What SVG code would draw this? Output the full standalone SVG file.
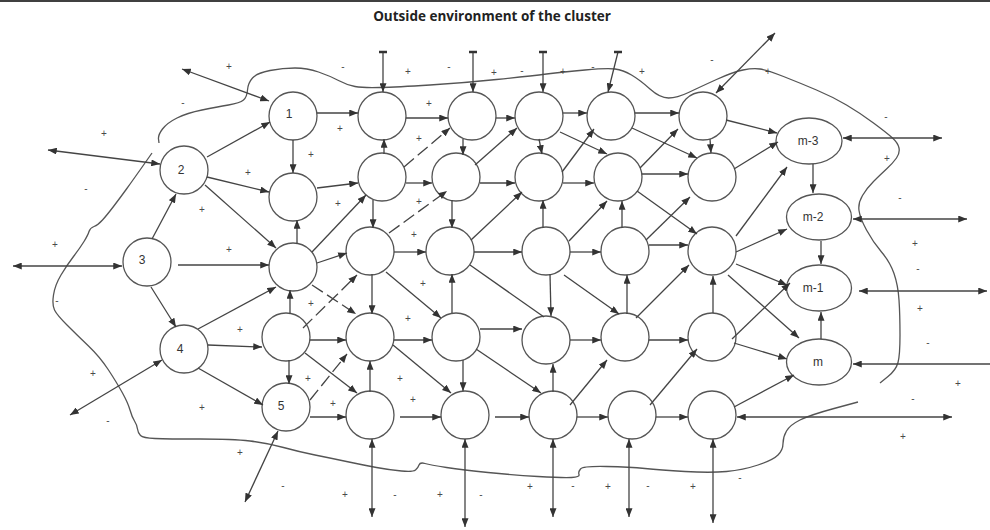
<svg xmlns="http://www.w3.org/2000/svg" width="990" height="530" viewBox="0 0 990 530">
<style>
.e{stroke:#444;stroke-width:1.3;fill:none;marker-end:url(#ah)}
.d{stroke:#444;stroke-width:1.3;fill:none;marker-end:url(#ah);marker-start:url(#ah)}
.p{stroke:#444;stroke-width:1.3;fill:none}
.ds{stroke-dasharray:13 5}
.tb{stroke:#333;stroke-width:2.5}
.nd circle,.nd ellipse{fill:#fff;stroke:#555;stroke-width:1.3}
.lbl{font-family:'Liberation Sans',Arial,sans-serif;font-size:12px;fill:#333;text-anchor:middle}
.pm{font-family:'Liberation Sans',Arial,sans-serif;font-size:10px;fill:#4a4a4a;text-anchor:middle}
.bd{stroke:#555;stroke-width:1.3;fill:none}
</style>
<defs>
<marker id="ah" viewBox="0 0 10 8" refX="10" refY="4" markerWidth="9" markerHeight="7" orient="auto-start-reverse" markerUnits="userSpaceOnUse"><path d="M0,0 L10,4 L0,8 z" fill="#333"/></marker>
</defs>
<rect width="990" height="530" fill="#fff"/>
<line x1="0" y1="1" x2="990" y2="1" stroke="#000" stroke-width="1.5"/>
<text x="492" y="21" font-family="'Open Sans','Liberation Sans',Arial,sans-serif" font-weight="bold" font-size="13.5" fill="#222" text-anchor="middle">Outside environment of the cluster</text>

<g id="boundary">
<path class="bd" d="M159,143 L158.5,139 Q158,135 162.5,129 Q167,123 177,118 Q187,113 202,110 Q217,107 228.5,105 Q240,103 243.5,100 Q247,97 247.5,90 Q248,83 252.5,78 Q257,73 270,70.5 Q283,68 295,68 Q307,68 318.5,72 Q330,76 338.5,80.5 Q347,85 355,86.5 Q363,88 380,87.5 Q397,87 430,85 Q463,83 496.5,79.5 Q530,76 546.5,74 Q563,72 585,70 Q607,68 615,69 Q623,70 631.5,75 Q640,80 650,89 Q660,98 668.5,98 Q677,98 688.5,92.5 Q700,87 716.5,79.5 Q733,72 743,70 Q753,68 760,69 Q767,70 783.5,76.5 Q800,83 816.5,90 Q833,97 846.5,105 Q860,113 873.5,123 Q887,133 892.5,138 Q898,143 899,148 Q900,153 896.5,158 Q893,163 886.5,169 Q880,175 873.5,181.5 Q867,188 862.5,195.5 Q858,203 859,210.5 Q860,218 866.5,230 Q873,242 881.5,252 Q890,262 894,273.5 Q898,285 899,300 Q900,315 900,335 Q900,355 898,362.5 Q896,370 888,376.5 L880,383"/>
<path class="bd" d="M858,402 L834,408.5 Q810,415 800,420 Q790,425 786.5,431 Q783,437 783,443.5 Q783,450 778,455 Q773,460 758,465 Q743,470 726.5,471.5 Q710,473 685,471.5 Q660,470 645,468.5 Q630,467 606.5,466.5 Q583,466 580.5,469 Q578,472 579,474.5 Q580,477 571.5,477.5 Q563,478 538,476.5 Q513,475 488,472.5 Q463,470 446.5,467.5 Q430,465 425,463.5 Q420,462 419,465 Q418,468 415.5,470 Q413,472 401.5,471 Q390,470 376.5,467.5 Q363,465 346.5,461.5 Q330,458 315,455 Q300,452 283.5,447.5 Q267,443 250,441 Q233,439 200,439 Q167,439 155,438.5 Q143,438 140.5,435.5 Q138,433 137.5,429 Q137,425 134.5,421 Q132,417 130,410 Q128,403 122.5,393 Q117,383 108.5,370 Q100,357 88.5,346 Q77,335 67,325 Q57,315 54.5,310 Q52,305 53.5,295 Q55,285 61,275 Q67,265 73.5,256.5 Q80,248 84,241.5 Q88,235 89,231.5 Q90,228 94,226.5 Q98,225 102.5,220 Q107,215 113.5,206.5 Q120,198 126.5,189 Q133,180 142.5,166.5 L152,153"/>
</g>

<g id="signs">
<text class="pm" x="229" y="69.5">+</text><text class="pm" x="104" y="136.5">+</text><text class="pm" x="311" y="157.5">+</text><text class="pm" x="248" y="175.5">+</text>
<text class="pm" x="408" y="74.5">+</text><text class="pm" x="494" y="75.5">+</text><text class="pm" x="563" y="74.5">+</text><text class="pm" x="642" y="74.5">+</text>
<text class="pm" x="429" y="106.5">+</text><text class="pm" x="340" y="131.5">+</text><text class="pm" x="419" y="141.5">+</text><text class="pm" x="768" y="74.5">+</text>
<text class="pm" x="887" y="161.5">+</text><text class="pm" x="202" y="212.5">+</text><text class="pm" x="55" y="247.5">+</text><text class="pm" x="229" y="252.5">+</text>
<text class="pm" x="240" y="332.5">+</text><text class="pm" x="311" y="306.5">+</text><text class="pm" x="338" y="206.5">+</text><text class="pm" x="419" y="204.5">+</text>
<text class="pm" x="414" y="237.5">+</text><text class="pm" x="423" y="286.5">+</text><text class="pm" x="408" y="321.5">+</text><text class="pm" x="308" y="381.5">+</text>
<text class="pm" x="400" y="381.5">+</text><text class="pm" x="333" y="406.5">+</text><text class="pm" x="413" y="402.5">+</text><text class="pm" x="915" y="246.5">+</text>
<text class="pm" x="920" y="311.5">+</text><text class="pm" x="93" y="376.5">+</text><text class="pm" x="202" y="410.5">+</text><text class="pm" x="240" y="455.5">+</text>
<text class="pm" x="345" y="497.5">+</text><text class="pm" x="440" y="497.5">+</text><text class="pm" x="530" y="489.5">+</text><text class="pm" x="608" y="489.5">+</text>
<text class="pm" x="958" y="386.5">+</text><text class="pm" x="903" y="439.5">+</text><text class="pm" x="693" y="489.5">+</text>
<text class="pm" x="183" y="106">-</text><text class="pm" x="343" y="70">-</text><text class="pm" x="449" y="70">-</text><text class="pm" x="522" y="74">-</text>
<text class="pm" x="593" y="70">-</text><text class="pm" x="712" y="63">-</text><text class="pm" x="886" y="120">-</text><text class="pm" x="86" y="192">-</text>
<text class="pm" x="57" y="304">-</text><text class="pm" x="900" y="201">-</text><text class="pm" x="918" y="272">-</text><text class="pm" x="928" y="346">-</text>
<text class="pm" x="108" y="424">-</text><text class="pm" x="283" y="489">-</text><text class="pm" x="395" y="498">-</text><text class="pm" x="481" y="498">-</text>
<text class="pm" x="573" y="489">-</text><text class="pm" x="648" y="489">-</text><text class="pm" x="913" y="402">-</text><text class="pm" x="740" y="481">-</text>
</g>

<g id="n2" class="nd"><circle cx="184" cy="170" r="24"/><text class="lbl" x="181" y="174">2</text></g>
<g id="n3" class="nd"><circle cx="147" cy="262" r="24"/><text class="lbl" x="142" y="264">3</text></g>
<g id="n4" class="nd"><circle cx="184" cy="349" r="24"/><text class="lbl" x="180" y="353">4</text></g>
<g id="n1" class="nd"><circle cx="293" cy="116" r="24"/><text class="lbl" x="289" y="118">1</text></g>
<g id="c1r2" class="nd"><circle cx="293" cy="197" r="24"/></g>
<g id="c1r3" class="nd"><circle cx="293" cy="267" r="24"/></g>
<g id="c1r4" class="nd"><circle cx="286" cy="337" r="24"/></g>
<g id="n5" class="nd"><circle cx="286" cy="407" r="24"/><text class="lbl" x="281" y="410">5</text></g>
<g id="c2r1" class="nd"><circle cx="382" cy="116" r="24"/></g>
<g id="c2r2" class="nd"><circle cx="382" cy="177" r="24"/></g>
<g id="c2r3" class="nd"><circle cx="370" cy="251" r="24"/></g>
<g id="c2r4" class="nd"><circle cx="370" cy="337" r="24"/></g>
<g id="c2r5" class="nd"><circle cx="370" cy="415" r="24"/></g>
<g id="c3r1" class="nd"><circle cx="472" cy="116" r="24"/></g>
<g id="c3r2" class="nd"><circle cx="456" cy="177" r="24"/></g>
<g id="c3r3" class="nd"><circle cx="450" cy="251" r="24"/></g>
<g id="c3r4" class="nd"><circle cx="456" cy="337" r="24"/></g>
<g id="c3r5" class="nd"><circle cx="465" cy="415" r="24"/></g>
<g id="c4r1" class="nd"><circle cx="539" cy="116" r="24"/></g>
<g id="c4r2" class="nd"><circle cx="539" cy="177" r="24"/></g>
<g id="c4r3" class="nd"><circle cx="546" cy="251" r="24"/></g>
<g id="c4r4" class="nd"><circle cx="546" cy="340" r="24"/></g>
<g id="c4r5" class="nd"><circle cx="553" cy="415" r="24"/></g>
<g id="c5r1" class="nd"><circle cx="611" cy="116" r="24"/></g>
<g id="c5r2" class="nd"><circle cx="618" cy="177" r="24"/></g>
<g id="c5r3" class="nd"><circle cx="625" cy="251" r="24"/></g>
<g id="c5r4" class="nd"><circle cx="625" cy="337" r="24"/></g>
<g id="c5r5" class="nd"><circle cx="632" cy="415" r="24"/></g>
<g id="c6r1" class="nd"><circle cx="703" cy="116" r="24"/></g>
<g id="c6r2" class="nd"><circle cx="712" cy="177" r="24"/></g>
<g id="c6r3" class="nd"><circle cx="712" cy="251" r="24"/></g>
<g id="c6r4" class="nd"><circle cx="712" cy="337" r="24"/></g>
<g id="c6r5" class="nd"><circle cx="712" cy="415" r="24"/></g>
<g id="m3" class="nd"><ellipse cx="809" cy="141" rx="33" ry="23"/><text class="lbl" x="808" y="145">m-3</text></g>
<g id="m2" class="nd"><ellipse cx="819" cy="217" rx="32.5" ry="23"/><text class="lbl" x="813" y="221">m-2</text></g>
<g id="m1" class="nd"><ellipse cx="819" cy="288" rx="32.5" ry="23"/><text class="lbl" x="813" y="292">m-1</text></g>
<g id="m" class="nd"><ellipse cx="819" cy="362" rx="32.5" ry="23"/><text class="lbl" x="818" y="366">m</text></g>

<g id="connectors">
<line class="e" x1="207" y1="157" x2="270" y2="122"/>
<line class="e" x1="207" y1="177" x2="269" y2="192"/>
<line class="e" x1="205" y1="185" x2="276" y2="248"/>
<line class="e" x1="152" y1="239" x2="176" y2="194"/>
<line class="e" x1="178" y1="265" x2="269" y2="265"/>
<line class="e" x1="151" y1="287" x2="176" y2="327"/>
<line class="e" x1="198" y1="329" x2="276" y2="287"/>
<line class="e" x1="208" y1="345" x2="262" y2="347"/>
<line class="e" x1="198" y1="368" x2="263" y2="405"/>
<line class="e" x1="293" y1="140" x2="293" y2="173"/>
<line class="e" x1="317" y1="113" x2="358" y2="113"/>
<line class="e" x1="317" y1="188" x2="358" y2="183"/>
<line class="e" x1="297" y1="244" x2="297" y2="220"/>
<line class="e" x1="312" y1="252" x2="366" y2="195"/>
<line class="e" x1="317" y1="263" x2="347" y2="253"/>
<line class="e ds" x1="312" y1="285" x2="356" y2="314"/>
<line class="e" x1="290" y1="314" x2="290" y2="290"/>
<line class="e ds" x1="303" y1="328" x2="357" y2="275"/>
<line class="e" x1="310" y1="340" x2="346" y2="340"/>
<line class="e" x1="305" y1="353" x2="357" y2="393"/>
<line class="e" x1="289" y1="360" x2="289" y2="384"/>
<line class="e ds" x1="310" y1="400" x2="347" y2="354"/>
<line class="e" x1="310" y1="417" x2="346" y2="417"/>
<line class="e" x1="406" y1="118" x2="448" y2="118"/>
<line class="e" x1="384" y1="154" x2="384" y2="139"/>
<line class="e ds" x1="404" y1="167" x2="450" y2="128"/>
<line class="e" x1="406" y1="183" x2="432" y2="183"/>
<line class="e" x1="373" y1="200" x2="373" y2="228"/>
<line class="e ds" x1="389" y1="233" x2="447" y2="191"/>
<line class="e" x1="394" y1="252" x2="426" y2="252"/>
<line class="e" x1="372" y1="274" x2="372" y2="314"/>
<line class="e" x1="386" y1="272" x2="441" y2="318"/>
<line class="e" x1="394" y1="340" x2="432" y2="340"/>
<line class="e" x1="393" y1="345" x2="451" y2="393"/>
<line class="e" x1="370" y1="392" x2="370" y2="361"/>
<line class="e" x1="400" y1="417" x2="441" y2="417"/>
<line class="e" x1="463" y1="139" x2="463" y2="155"/>
<line class="e" x1="452" y1="200" x2="452" y2="228"/>
<line class="e" x1="475" y1="165" x2="517" y2="128"/>
<line class="e" x1="496" y1="118" x2="515" y2="118"/>
<line class="e" x1="480" y1="183" x2="515" y2="183"/>
<line class="e" x1="471" y1="240" x2="522" y2="192"/>
<line class="e" x1="474" y1="252" x2="522" y2="252"/>
<line class="p" x1="470" y1="265" x2="544" y2="317"/>
<line class="e" x1="452" y1="313" x2="452" y2="274"/>
<line class="e" x1="480" y1="329" x2="522" y2="329"/>
<line class="e" x1="476" y1="349" x2="541" y2="393"/>
<line class="e" x1="463" y1="360" x2="463" y2="391"/>
<line class="e" x1="495" y1="417" x2="529" y2="417"/>
<line class="e" x1="563" y1="113" x2="587" y2="113"/>
<line class="e" x1="539" y1="139" x2="542" y2="154"/>
<line class="e" x1="560" y1="132" x2="607" y2="154"/>
<line class="e" x1="562" y1="172" x2="594" y2="129"/>
<line class="e" x1="563" y1="183" x2="594" y2="183"/>
<line class="e" x1="543" y1="228" x2="543" y2="200"/>
<line class="e" x1="569" y1="241" x2="607" y2="201"/>
<line class="e" x1="570" y1="252" x2="601" y2="252"/>
<line class="e" x1="550" y1="274" x2="551" y2="316"/>
<line class="e" x1="564" y1="275" x2="619" y2="314"/>
<line class="e" x1="570" y1="340" x2="601" y2="340"/>
<line class="e" x1="553" y1="392" x2="553" y2="364"/>
<line class="e" x1="570" y1="405" x2="607" y2="360"/>
<line class="e" x1="577" y1="417" x2="608" y2="417"/>
<line class="e" x1="635" y1="113" x2="679" y2="113"/>
<line class="e" x1="632" y1="128" x2="697" y2="158"/>
<line class="e" x1="640" y1="168" x2="678" y2="129"/>
<line class="e" x1="642" y1="174" x2="688" y2="174"/>
<line class="e" x1="637" y1="191" x2="697" y2="234"/>
<line class="e" x1="622" y1="228" x2="622" y2="201"/>
<line class="e" x1="646" y1="240" x2="690" y2="197"/>
<line class="e" x1="649" y1="245" x2="688" y2="245"/>
<line class="e" x1="627" y1="314" x2="627" y2="275"/>
<line class="e" x1="636" y1="318" x2="689" y2="265"/>
<line class="e" x1="649" y1="340" x2="688" y2="340"/>
<line class="e" x1="650" y1="405" x2="697" y2="349"/>
<line class="e" x1="656" y1="417" x2="688" y2="417"/>
<line class="e" x1="710" y1="139" x2="711" y2="153"/>
<line class="e" x1="726" y1="120" x2="777" y2="133"/>
<line class="e" x1="734" y1="169" x2="778" y2="142"/>
<line class="e" x1="736" y1="236" x2="787" y2="167"/>
<line class="e" x1="736" y1="252" x2="787" y2="229"/>
<line class="e" x1="736" y1="264" x2="787" y2="285"/>
<line class="e" x1="728" y1="275" x2="799" y2="338"/>
<line class="e" x1="713" y1="313" x2="713" y2="276"/>
<line class="e" x1="732" y1="339" x2="790" y2="283"/>
<line class="e" x1="734" y1="343" x2="787" y2="359"/>
<line class="e" x1="734" y1="407" x2="794" y2="375"/>
<line class="e" x1="813" y1="164" x2="813" y2="193"/>
<line class="e" x1="821" y1="241" x2="821" y2="264"/>
<line class="e" x1="821" y1="339" x2="821" y2="312"/>

<line class="d" x1="182" y1="69" x2="269" y2="101"/>
<line class="d" x1="48" y1="150" x2="160" y2="164"/>
<line class="d" x1="13" y1="266" x2="122" y2="266"/>
<line class="d" x1="70" y1="415" x2="162" y2="360"/>
<line class="d" x1="245" y1="502" x2="278" y2="431"/>
<line class="d" x1="775" y1="33" x2="716" y2="93"/>
<line class="d" x1="942" y1="138" x2="843" y2="138"/>
<line class="d" x1="967" y1="219" x2="853" y2="219"/>
<line class="d" x1="987" y1="291" x2="859" y2="291"/>
<line class="e" x1="990" y1="364" x2="853" y2="364"/>
<line class="d" x1="952" y1="417" x2="737" y2="417"/>
<line class="d" x1="372" y1="517" x2="372" y2="439"/>
<line class="d" x1="465" y1="527" x2="465" y2="439"/>
<line class="d" x1="553" y1="517" x2="553" y2="439"/>
<line class="d" x1="629" y1="517" x2="629" y2="439"/>
<line class="d" x1="713" y1="523" x2="713" y2="439"/>
<line class="e" x1="383" y1="52" x2="383" y2="92"/>
<line class="e" x1="473" y1="52" x2="473" y2="92"/>
<line class="e" x1="543" y1="52" x2="543" y2="92"/>
<line class="e" x1="618" y1="52" x2="608" y2="92"/>
<line class="tb" x1="379" y1="52" x2="387" y2="52"/>
<line class="tb" x1="469" y1="52" x2="477" y2="52"/>
<line class="tb" x1="539" y1="52" x2="547" y2="52"/>
<line class="tb" x1="614" y1="52" x2="622" y2="52"/>
</g>
</svg>
